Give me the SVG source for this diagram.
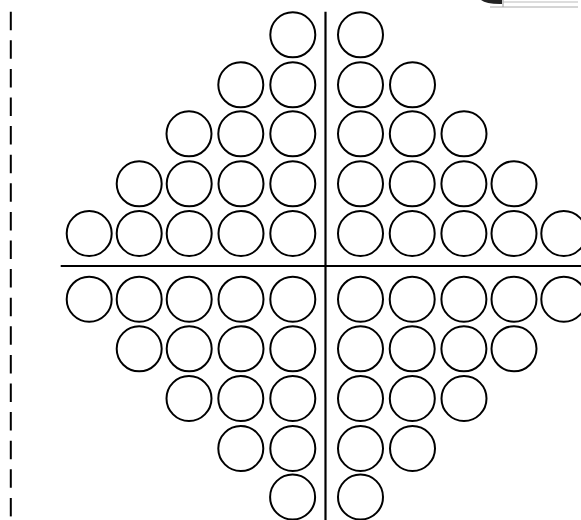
<svg xmlns="http://www.w3.org/2000/svg" width="581" height="520" viewBox="0 0 581 520">
<style>
.c{fill:none;stroke:#000;stroke-width:2}
.ln{stroke:#000;stroke-width:2.2;fill:none}
.dash{stroke:#000;stroke-width:2;stroke-dasharray:18.5 10.1;fill:none}
</style>
<defs><circle id="b" r="22.5" class="c"/></defs>
<rect width="581" height="520" fill="#fff"/>
<g id="connectors">
<line class="dash" x1="10.8" y1="11.7" x2="10.8" y2="520"/>
<line class="ln" x1="325.5" y1="11.7" x2="325.5" y2="520"/>
<line class="ln" x1="60.7" y1="266" x2="581" y2="266"/>
</g>
<g id="pencil">
<path d="M481 0 Q486 4 500 4 L502 4 L502 0 Z" fill="#222"/>
<line x1="503" y1="0" x2="503" y2="7" stroke="#999" stroke-width="1"/>
<line x1="503" y1="2" x2="578" y2="2" stroke="#bbb" stroke-width="1"/>
<line x1="490" y1="7" x2="578" y2="7" stroke="#aaa" stroke-width="1"/>
</g>
<g id="row1"><use href="#b" x="292.8" y="34.8"/><use href="#b" x="360.5" y="34.8"/></g>
<g id="row2"><use href="#b" x="240.8" y="84.8"/><use href="#b" x="292.8" y="84.8"/><use href="#b" x="360.5" y="84.8"/><use href="#b" x="412.5" y="84.8"/></g>
<g id="row3"><use href="#b" x="189" y="133.8"/><use href="#b" x="240.8" y="133.8"/><use href="#b" x="292.8" y="133.8"/><use href="#b" x="360.5" y="133.8"/><use href="#b" x="412.3" y="133.8"/><use href="#b" x="464" y="133.8"/></g>
<g id="row4"><use href="#b" x="139.2" y="183.8"/><use href="#b" x="189.2" y="183.8"/><use href="#b" x="241" y="183.8"/><use href="#b" x="292.8" y="183.8"/><use href="#b" x="360.5" y="183.8"/><use href="#b" x="412.2" y="183.8"/><use href="#b" x="463.9" y="183.8"/><use href="#b" x="514" y="183.8"/></g>
<g id="row5"><use href="#b" x="89.2" y="233.5"/><use href="#b" x="139.2" y="233.5"/><use href="#b" x="189.2" y="233.5"/><use href="#b" x="241" y="233.5"/><use href="#b" x="292.8" y="233.5"/><use href="#b" x="360.5" y="233.5"/><use href="#b" x="412.2" y="233.5"/><use href="#b" x="463.9" y="233.5"/><use href="#b" x="514" y="233.5"/><use href="#b" x="563.8" y="233.5"/></g>
<g id="row6"><use href="#b" x="89.2" y="299.2"/><use href="#b" x="139.2" y="299.2"/><use href="#b" x="189.2" y="299.2"/><use href="#b" x="241" y="299.2"/><use href="#b" x="292.8" y="299.2"/><use href="#b" x="360.5" y="299.2"/><use href="#b" x="412.2" y="299.2"/><use href="#b" x="463.9" y="299.2"/><use href="#b" x="514" y="299.2"/><use href="#b" x="563.8" y="299.2"/></g>
<g id="row7"><use href="#b" x="139.2" y="348.8"/><use href="#b" x="189.2" y="348.8"/><use href="#b" x="241" y="348.8"/><use href="#b" x="292.8" y="348.8"/><use href="#b" x="360.5" y="348.8"/><use href="#b" x="412.2" y="348.8"/><use href="#b" x="463.9" y="348.8"/><use href="#b" x="514" y="348.8"/></g>
<g id="row8"><use href="#b" x="189" y="398.5"/><use href="#b" x="240.8" y="398.5"/><use href="#b" x="292.8" y="398.5"/><use href="#b" x="360.5" y="398.5"/><use href="#b" x="412.3" y="398.5"/><use href="#b" x="464" y="398.5"/></g>
<g id="row9"><use href="#b" x="240.8" y="448.5"/><use href="#b" x="292.8" y="448.5"/><use href="#b" x="360.5" y="448.5"/><use href="#b" x="412.5" y="448.5"/></g>
<g id="row10"><use href="#b" x="292.6" y="497"/><use href="#b" x="360.5" y="497"/></g>
</svg>
